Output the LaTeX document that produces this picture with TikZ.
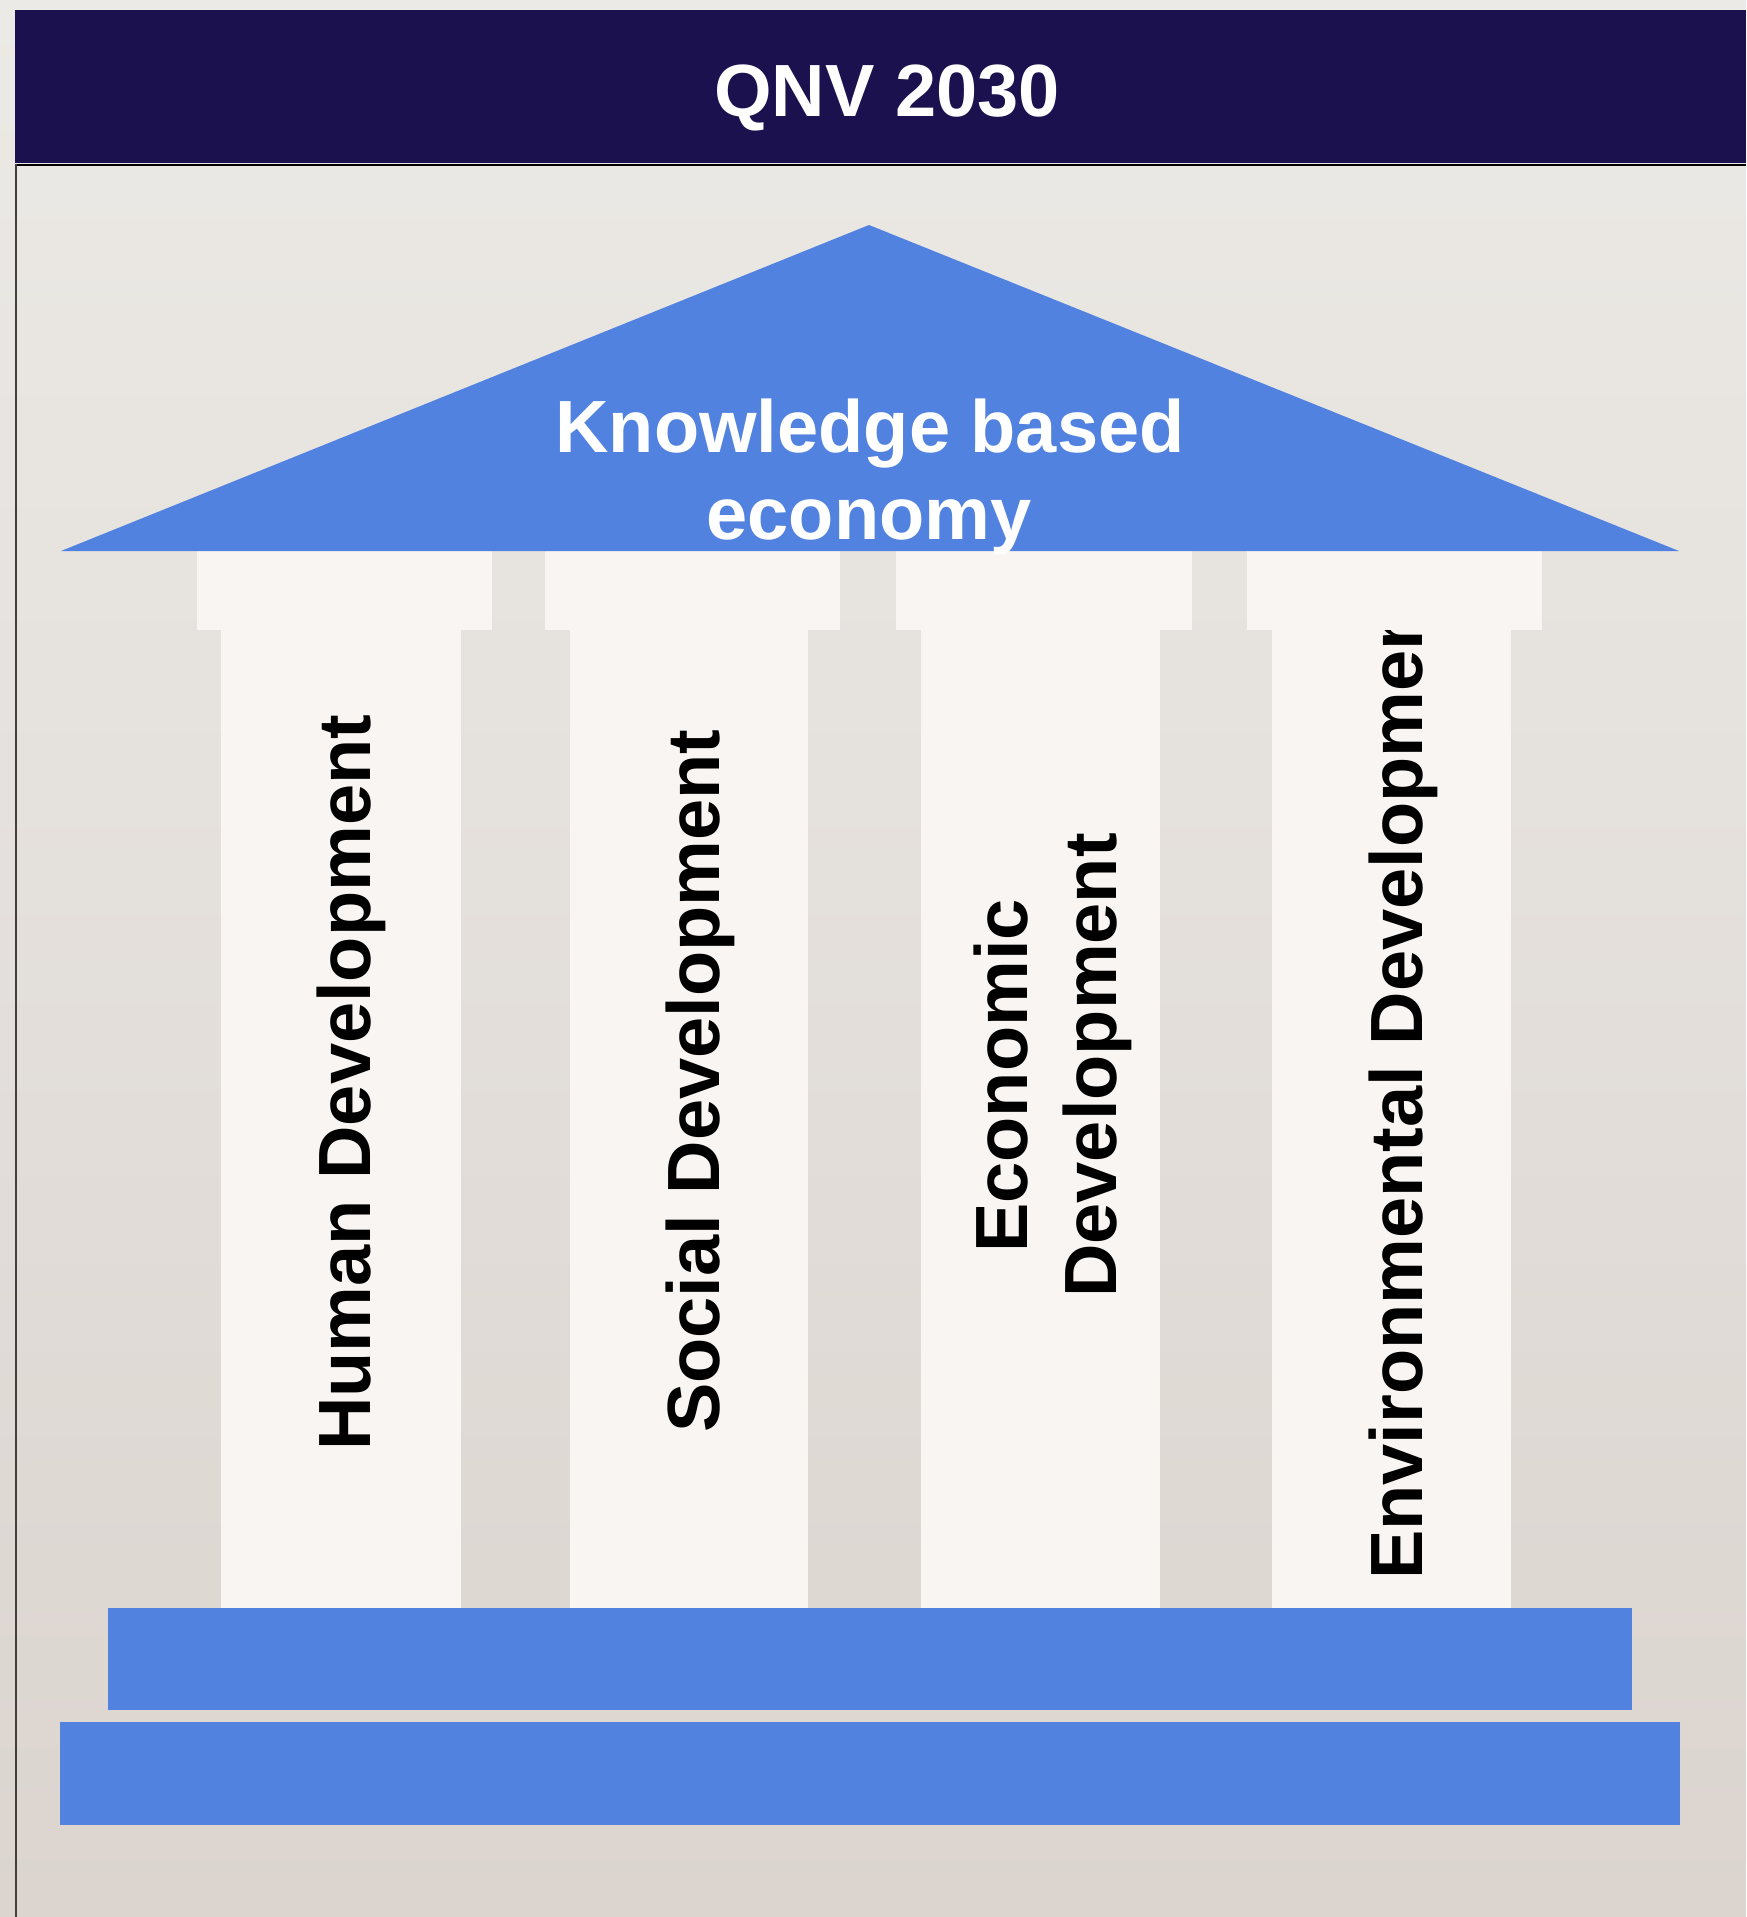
\documentclass[tikz,border=0pt]{standalone}
\usepackage{fontspec}
\setmainfont{Liberation Sans}
\begin{document}
\begin{tikzpicture}[x=1pt,y=-1pt,
  big/.style={font=\fontsize{74}{85}\selectfont\bfseries, inner sep=0pt},
  pillar/.style={fill=pillarc, draw=none},
  blue/.style={fill=roofblue, draw=none}]
\definecolor{hdr}{RGB}{26,17,78}
\definecolor{roofblue}{RGB}{82,130,224}
\definecolor{pillarc}{RGB}{249,245,242}
\definecolor{bgtop}{RGB}{236,234,230}
\definecolor{bgbot}{RGB}{219,212,207}
\useasboundingbox (0,0) rectangle (1746,1917);
\fill[top color=bgtop, bottom color=bgbot] (0,0) rectangle (1746,1917);
% header
\fill[hdr] (15,10) rectangle (1746,163);
\draw[line width=2pt, black] (15,164.5) -- (1746,164.5);
\draw[line width=2pt, black!75] (16,164) -- (16,1917);
\node[big, text=white, anchor=base] (title) at (887,116) {QNV 2030};
% pillars shafts
\fill[pillar] (221,630) rectangle (461,1608);
\fill[pillar] (570,630) rectangle (808,1608);
\fill[pillar] (921,630) rectangle (1160,1608);
\fill[pillar] (1272,630) rectangle (1511,1608);
% pillar texts
\node[big, rotate=90, anchor=base west] (human) at (370,1451) {Human Development};
\node[big, rotate=90, anchor=base west] (social) at (719,1433) {Social Development};
\node[big, rotate=90, anchor=base west] (econ1) at (1027,1253) {Economic};
\node[big, rotate=90, anchor=base west] (econ2) at (1116,1298) {Development};
\node[big, rotate=90, anchor=base west] (env) at (1422,1580) {Environmental Development};
% caps
\fill[pillar] (197,551) rectangle (492,630);
\fill[pillar] (545,551) rectangle (840,630);
\fill[pillar] (896,551) rectangle (1192,630);
\fill[pillar] (1247,551) rectangle (1542,630);
% roof
\fill[blue] (61,551) -- (869,225) -- (1679,551) -- cycle;
\node[big, text=white, anchor=base] (roof1) at (870,452) {Knowledge based};
\node[big, text=white, anchor=base] (roof2) at (869,539) {economy};
% base steps
\fill[blue] (108,1608) rectangle (1632,1710);
\fill[blue] (60,1722) rectangle (1680,1825);
\end{tikzpicture}
\end{document}
